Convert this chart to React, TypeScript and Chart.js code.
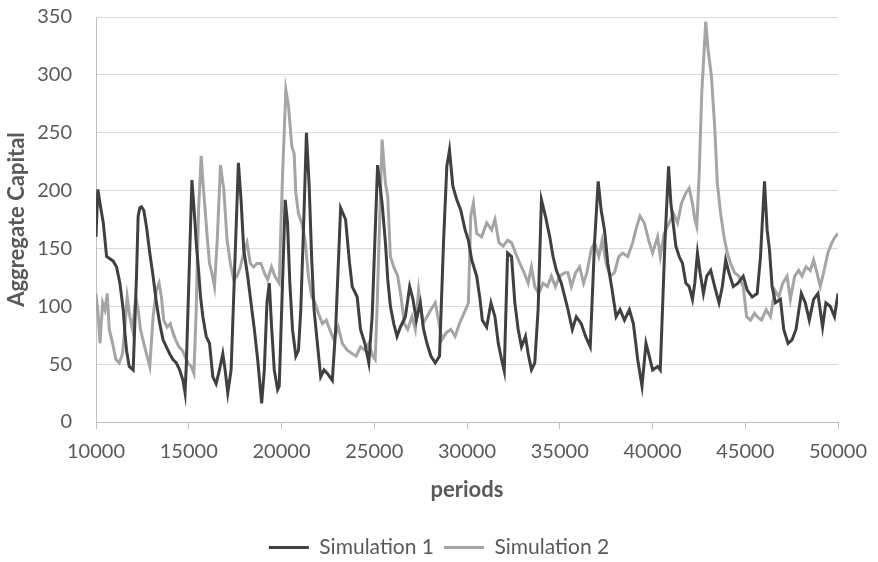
import React, { useEffect, useRef } from "react";
import { Chart, registerables } from "chart.js";

Chart.register(...registerables);

const seriesNames = ["Simulation 1", "Simulation 2"];
const xTitle = "periods";
const yTitle = "Aggregate Capital";

const periods1 = [
  10000, 10100, 10215, 10394, 10572, 10751, 10930, 11110, 11288, 11468, 11557, 11646, 11790, 12005,
  12183, 12272, 12362, 12451, 12576, 12720, 12899, 13078, 13257, 13436, 13615, 13794, 13972, 14150,
  14330, 14510, 14688, 14800, 14870, 15171, 15314, 15403, 15528, 15636, 15761, 15940, 16119, 16298,
  16477, 16656, 16835, 16961, 17104, 17283, 17462, 17677, 17820, 17963, 18178, 18357, 18536, 18715,
  18930, 19073, 19216, 19341, 19467, 19610, 19789, 19877, 20199, 20324, 20450, 20593, 20772, 20915,
  21040, 21219, 21344, 21487, 21630, 21755, 21934, 22113, 22292, 22471, 22739, 22918, 23187, 23455,
  23670, 23813, 24081, 24260, 24493, 24707, 24886, 25180, 25424, 25603, 25728, 25872, 26050, 26229,
  26408, 26677, 26909, 27088, 27267, 27482, 27661, 27840, 28054, 28287, 28519, 28734, 28913, 29056,
  29235, 29450, 29664, 29897, 30076, 30255, 30523, 30702, 30827, 31060, 31293, 31507, 31686, 31865,
  32008, 32187, 32401, 32580, 32759, 32938, 33153, 33296, 33476, 33654, 33833, 34012, 34227, 34460,
  34638, 34817, 35085, 35354, 35444, 35677, 35892, 36160, 36393, 36643, 36876, 37072, 37234, 37412,
  37591, 37824, 38038, 38253, 38487, 38754, 38969, 39202, 39434, 39649, 39792, 40007, 40275, 40419,
  40670, 40866, 40992, 41135, 41260, 41439, 41618, 41797, 41976, 42155, 42280, 42423, 42566, 42745,
  42924, 43139, 43353, 43586, 43765, 43944, 44122, 44355, 44605, 44892, 45106, 45375, 45643, 45822,
  46037, 46180, 46305, 46448, 46627, 46896, 47075, 47307, 47522, 47736, 48023, 48237, 48452, 48685,
  48917, 49168, 49347, 49579, 49811, 50000,
];
const capital1 = [
  160, 201, 189, 172, 143, 141, 139, 134, 120, 97, 77, 62, 48, 45,
  126, 178, 185, 186, 183, 169, 146, 126, 103, 85, 71, 65, 59, 54,
  51, 45, 36, 25, 50, 209, 178, 155, 131, 108, 91, 74, 68, 39,
  33, 45, 59, 45, 25, 45, 126, 224, 192, 149, 126, 103, 80, 54,
  16, 45, 103, 120, 82, 45, 28, 31, 192, 172, 120, 80, 57, 62,
  97, 183, 250, 206, 140, 97, 68, 39, 45, 42, 36, 80, 185, 175,
  137, 117, 108, 80, 68, 51, 91, 222, 189, 155, 123, 100, 85, 74,
  82, 91, 117, 106, 88, 103, 80, 68, 57, 51, 57, 155, 221, 235,
  204, 192, 183, 166, 157, 140, 126, 106, 88, 82, 103, 91, 68, 54,
  44, 146, 143, 103, 80, 65, 74, 59, 45, 51, 97, 192, 178, 160,
  143, 131, 120, 103, 97, 80, 91, 85, 74, 65, 155, 208, 183, 166,
  137, 114, 91, 97, 88, 97, 85, 54, 31, 68, 59, 45, 48, 45,
  155, 221, 189, 169, 152, 143, 137, 120, 117, 106, 120, 146, 129, 111,
  126, 131, 117, 103, 117, 140, 129, 117, 120, 126, 114, 108, 111, 143,
  208, 166, 149, 117, 103, 106, 80, 68, 71, 80, 111, 103, 88, 106,
  111, 82, 103, 100, 91, 111,
];

const periods2 = [
  10000, 10125, 10215, 10358, 10483, 10608, 10716, 10895, 11074, 11253, 11432, 11557, 11682, 11825,
  11969, 12147, 12272, 12398, 12576, 12755, 12899, 13078, 13257, 13400, 13526, 13651, 13830, 14008,
  14150, 14294, 14473, 14652, 14867, 14956, 15135, 15278, 15403, 15528, 15671, 15779, 15886, 15994,
  16119, 16244, 16387, 16530, 16709, 16888, 17067, 17246, 17426, 17604, 17783, 17963, 18141, 18320,
  18498, 18677, 18892, 19071, 19250, 19465, 19643, 19876, 20054, 20235, 20378, 20557, 20682, 20772,
  20915, 21094, 21272, 21451, 21630, 21810, 21988, 22203, 22417, 22596, 22829, 23062, 23277, 23545,
  23813, 24028, 24260, 24493, 24707, 24922, 25050, 25150, 25424, 25603, 25728, 25872, 26050, 26265,
  26444, 26623, 26802, 27034, 27213, 27392, 27625, 27840, 28054, 28287, 28466, 28644, 28877, 29128,
  29360, 29593, 29843, 30076, 30201, 30344, 30523, 30792, 31060, 31328, 31507, 31722, 31954, 32187,
  32401, 32616, 32849, 33081, 33296, 33475, 33654, 33869, 34101, 34334, 34548, 34763, 34995, 35264,
  35444, 35623, 35856, 36071, 36285, 36464, 36697, 36876, 37108, 37287, 37501, 37717, 37949, 38181,
  38396, 38665, 38933, 39148, 39327, 39560, 39792, 40007, 40275, 40419, 40634, 40902, 41135, 41349,
  41564, 41797, 41976, 42155, 42280, 42387, 42512, 42655, 42870, 42995, 43174, 43353, 43496, 43675,
  43854, 44033, 44212, 44426, 44659, 44892, 45071, 45285, 45500, 45643, 45876, 46126, 46359, 46591,
  46806, 47021, 47253, 47432, 47665, 47880, 48059, 48273, 48506, 48685, 48864, 49043, 49222, 49454,
  49669, 49848, 50000,
];
const capital2 = [
  111, 91, 68, 103, 97, 111, 80, 68, 54, 51, 59, 82, 108, 91,
  80, 108, 97, 80, 68, 57, 48, 91, 114, 120, 108, 88, 82, 85,
  77, 71, 65, 62, 54, 51, 48, 42, 97, 183, 230, 204, 183, 160,
  137, 129, 117, 155, 222, 201, 157, 137, 123, 126, 134, 146, 155, 137,
  134, 137, 137, 129, 123, 134, 126, 120, 212, 287, 273, 238, 232, 198,
  180, 172, 157, 126, 108, 103, 94, 85, 88, 80, 71, 82, 68, 62,
  59, 57, 65, 62, 68, 57, 54, 97, 244, 206, 195, 143, 134, 126,
  108, 85, 80, 91, 80, 114, 85, 91, 97, 103, 88, 71, 77, 80,
  74, 85, 94, 103, 178, 189, 163, 160, 172, 166, 175, 155, 152, 157,
  155, 146, 137, 129, 120, 134, 117, 111, 120, 117, 126, 117, 126, 129,
  129, 117, 129, 134, 120, 129, 149, 155, 143, 157, 137, 126, 129, 143,
  146, 143, 155, 169, 178, 172, 157, 146, 160, 143, 163, 172, 180, 172,
  189, 198, 202, 189, 175, 169, 212, 284, 346, 322, 299, 255, 206, 180,
  160, 146, 137, 129, 126, 117, 91, 88, 94, 91, 88, 97, 91, 114,
  108, 120, 126, 106, 126, 131, 126, 134, 131, 140, 129, 117, 129, 146,
  155, 160, 163,
];

const xMin = 10000;
const xMax = 50000;
const xStep = 5000;
const yMin = 0;
const yMax = 350;
const yStep = 50;

const FONT = "Lato, 'Open Sans', sans-serif";
const TEXT = "#595959";

const legendShift = {
  id: "legendShift",
  afterLayout(chart: any) {
    if (chart.legend) {
      chart.legend.top += 6;
      chart.legend.bottom += 6;
    }
  },
};

export default function App() {
  const ref = useRef<HTMLCanvasElement | null>(null);

  useEffect(() => {
    document.body.style.margin = "0";
    const canvas = ref.current;
    if (!canvas) return;
    const chart = new Chart(canvas, {
      type: "line",
      data: {
        datasets: [
          {
            label: seriesNames[0],
            data: periods1.map((p, i) => ({ x: p, y: capital1[i] })),
            borderColor: "#404040",
            backgroundColor: "#404040",
            borderWidth: 3,
            pointRadius: 0,
            tension: 0,
          },
          {
            label: seriesNames[1],
            data: periods2.map((p, i) => ({ x: p, y: capital2[i] })),
            borderColor: "#a5a5a5",
            backgroundColor: "#a5a5a5",
            borderWidth: 3,
            pointRadius: 0,
            tension: 0,
          },
        ],
      },
      options: {
        responsive: false,
        animation: false,
        events: [],
        layout: { padding: { top: 17, right: 0, bottom: 0, left: 0 } },
        plugins: {
          legend: {
            position: "bottom",
            labels: {
              usePointStyle: true,
              pointStyle: "line",
              pointStyleWidth: 40,
              color: TEXT,
              font: { family: FONT, size: 21 },
              padding: 10,
            },
          },
          tooltip: { enabled: false },
        },
        scales: {
          x: {
            type: "linear",
            min: xMin,
            max: xMax,
            ticks: {
              stepSize: xStep,
              autoSkip: false,
              maxRotation: 0,
              padding: 11,
              color: TEXT,
              font: { family: FONT, size: 20 },
              callback: (v: any) => String(v),
            },
            grid: {
              drawOnChartArea: false,
              drawTicks: true,
              tickLength: 7,
              color: "#bfbfbf",
            },
            border: { color: "#bfbfbf", width: 1 },
            title: {
              display: true,
              text: xTitle,
              color: TEXT,
              font: { family: FONT, size: 22, weight: "bold" },
              padding: { top: 0, bottom: 18 },
            },
            afterFit: (s: any) => {
              s.height = 99;
            },
          },
          y: {
            min: yMin,
            max: yMax,
            ticks: {
              stepSize: yStep,
              padding: 5,
              color: TEXT,
              font: { family: FONT, size: 20 },
            },
            grid: {
              color: "#d9d9d9",
              drawTicks: true,
              tickLength: 19,
              tickColor: "rgba(0,0,0,0)",
            },
            border: { color: "#bfbfbf", width: 1 },
            title: {
              display: true,
              text: yTitle,
              color: TEXT,
              font: { family: FONT, size: 22, weight: "bold" },
              padding: { top: 4, bottom: 0 },
            },
            afterFit: (s: any) => {
              s.width = 96;
            },
          },
          yRight: {
            position: "right",
            display: true,
            ticks: { display: false },
            grid: { display: false },
            border: { display: false },
            afterFit: (s: any) => {
              s.width = 37;
            },
          },
        },
      },
      plugins: [legendShift],
    });
    return () => chart.destroy();
  }, []);

  return (
    <div style={{ width: 878, height: 562 }}>
      <canvas ref={ref} width={878} height={562} />
    </div>
  );
}
